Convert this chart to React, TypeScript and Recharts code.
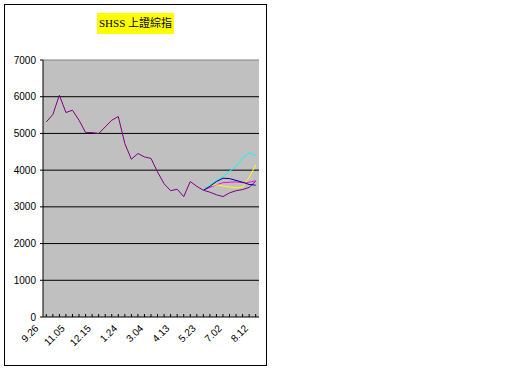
import React from 'react';
import { LineChart, Line, XAxis, YAxis, CartesianGrid, ReferenceLine } from 'recharts';

const dates = ['9.26','10.06','10.16','10.26','11.05','11.15','11.25','12.05','12.15','12.25','1.04','1.14','1.24','2.03','2.13','2.23','3.04','3.14','3.24','4.03','4.13','4.23','5.03','5.13','5.23','6.02','6.12','6.22','7.02','7.12','7.22','8.02','8.12'];
const actual = [5313,5515,6041,5569,5632,5360,5024,5024,4997,5177,5360,5460,4725,4297,4452,4360,4320,3950,3630,3440,3480,3280,3690,3560,3452,3400,3330,3280,3380,3440,3470,3530,3700];
const forecastStart = 24;
const navyTail = [3452,3560,3690,3780,3770,3720,3670,3610,3590];
const magentaTail = [3452,3530,3600,3660,3670,3680,3660,3670,3710];
const yellowTail = [3452,3580,3600,3570,3540,3520,3540,3800,4140];
const cyanTail = [3452,3600,3720,3830,3970,4100,4330,4470,4400];
const yTicks = [0,1000,2000,3000,4000,5000,6000,7000];
const gridValues = [1000,2000,3000,4000,5000,6000];

const tail = (arr: number[], i: number) => (i >= forecastStart ? arr[i - forecastStart] : null);

const data = dates.map((d, i) => ({
  date: d,
  actual: actual[i],
  navy: tail(navyTail, i),
  magenta: tail(magentaTail, i),
  yellow: tail(yellowTail, i),
  cyan: tail(cyanTail, i),
}));

const XTick = (props: any) => {
  const { x, y, payload, index } = props;
  const tx = x - 7;
  const ty = y + 12;
  return (
    <g>
      <line x1={x} y1={y} x2={x} y2={y - 3} stroke="#000" />
      {index % 4 === 0 && (
        <text x={tx} y={ty} textAnchor="end" transform={`rotate(-45 ${tx} ${ty})`} fontSize={10} fill="#000" fontFamily="Liberation Sans">
          {payload.value}
        </text>
      )}
    </g>
  );
};

export default function App() {
  return (
    <div style={{ position: 'absolute', left: 4, top: 4, width: 263, height: 362, border: '1px solid #000', boxSizing: 'border-box', background: '#fff' }}>
      <div style={{ position: 'absolute', top: 8, left: 0, right: 0, textAlign: 'center' }}>
        <span style={{ display: 'inline-block', background: '#FFFF00', padding: '5px 2px', lineHeight: '11px', fontSize: 11, fontFamily: '"Liberation Serif", "Noto Sans CJK TC"', color: '#000' }}>SHSS 上證綜指</span>
      </div>
      <LineChart width={261} height={360} data={data} margin={{ top: 55, right: 7, left: 0, bottom: 0 }}>
        <CartesianGrid vertical={false} stroke="#000" fill="#C0C0C0" fillOpacity={1} horizontalValues={gridValues} />
        <XAxis dataKey="date" interval={0} height={48} padding={{ left: 3.3, right: 3.3 }} tickLine={false} tickSize={0} tickMargin={0} axisLine={{ stroke: '#000' }} tick={<XTick />} />
        <YAxis domain={[0, 7000]} ticks={yTicks} interval={0} width={38} tickSize={3} tickMargin={4} axisLine={{ stroke: '#000' }} tickLine={{ stroke: '#000' }} tick={{ fontSize: 10, fill: '#000', fontFamily: 'Liberation Sans' }} />
        <YAxis yAxisId="r" orientation="right" domain={[0, 7000]} width={0} tick={false} tickLine={false} axisLine={{ stroke: '#808080' }} />
        <ReferenceLine y={7000} stroke="#808080" />
        <Line dataKey="actual" stroke="#800080" strokeWidth={1} dot={false} isAnimationActive={false} />
        <Line dataKey="magenta" stroke="#FF00FF" strokeWidth={1} dot={false} isAnimationActive={false} />
        <Line dataKey="yellow" stroke="#FFFF00" strokeWidth={1} dot={false} isAnimationActive={false} />
        <Line dataKey="cyan" stroke="#00FFFF" strokeWidth={1} dot={false} isAnimationActive={false} />
        <Line dataKey="navy" stroke="#000080" strokeWidth={1} dot={false} isAnimationActive={false} />
      </LineChart>
    </div>
  );
}
